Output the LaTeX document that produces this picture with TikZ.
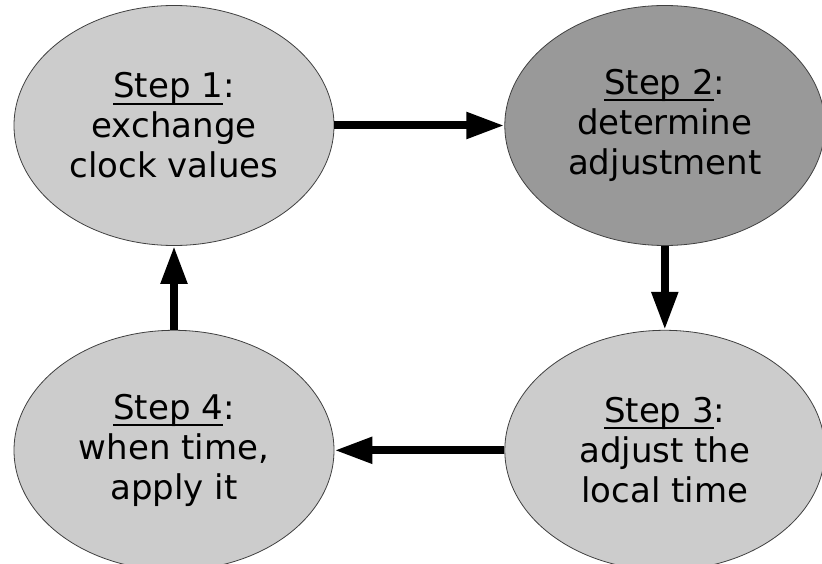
\documentclass[tikz,border=0pt]{standalone}
\usepackage{fontspec}
\setmainfont{DejaVu Sans}
\usepackage{xcolor}
\usetikzlibrary{shapes.geometric, arrows.meta, positioning}
\definecolor{phaselight}{gray}{0.8}
\definecolor{phasedark}{gray}{0.6}
\newcommand{\stepul}[1]{\setbox0\hbox{#1}\rlap{\rule[-6.7pt]{\wd0}{2pt}}\box0}
\tikzset{
  clockstep/.style={ellipse, draw=black!75, line width=0.8pt, fill=phaselight,
                    minimum width=320pt, minimum height=240pt, inner sep=0pt,
                    align=center, font=\fontsize{34}{40}\selectfont},
  steparrow/.style={-{Triangle[length=38pt, width=25pt]}, line width=8pt},
}
\begin{document}
\begin{tikzpicture}[x=1pt, y=-1pt]
\useasboundingbox (0,0) rectangle (822,564);

\node[clockstep] (s1) at (174,125.5) {\stepul{Step 1}:\\exchange\\clock values};
\node[clockstep, fill=phasedark, right=170pt of s1] (s2)
  {\stepul{Step 2}:\\determine\\adjustment};
\node[clockstep, below=84pt of s2] (s3) {\stepul{Step 3}:\\adjust the\\local time};
\node[clockstep, left=170pt of s3] (s4) {\stepul{Step 4}:\\when time,\\apply it};

\draw[steparrow] (s1) -- (s2);
\draw[steparrow] (s2) -- (s3);
\draw[steparrow] (s3) -- (s4);
\draw[steparrow] (s4) -- (s1);
\end{tikzpicture}
\end{document}
